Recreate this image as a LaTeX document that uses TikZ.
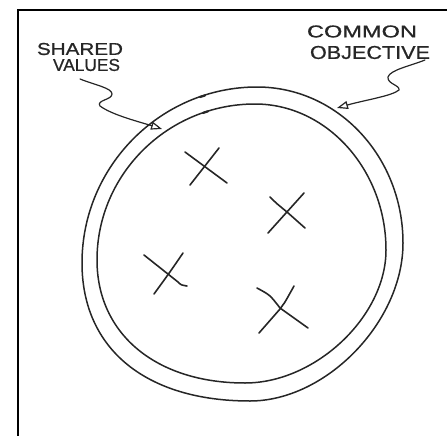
\documentclass[tikz,border=0pt]{standalone}
\usepackage{fontspec}
\setmainfont{Liberation Sans}
\newfontfamily\handfont{Liberation Sans}[FakeBold=0.8]
\usetikzlibrary{arrows.meta}
\begin{document}
\begin{tikzpicture}[x=1pt,y=-1pt,
  ring/.style={line width=1.5pt, black!85},
  cross/.style={line width=1.6pt, line cap=round, black!85},
  pointer/.style={line width=1.2pt, black!85, line cap=round, -{Triangle[open,length=11pt,width=8pt]}},
  frameline/.style={line width=2pt, black},
  tick/.style={line width=2.2pt, black!85, line cap=round},
  hand/.style={inner sep=0pt, black!85, font=\handfont}]
\useasboundingbox (0,0) rectangle (447,436);
% frame
\draw[frameline] (17.5,436) -- (17.5,10) -- (447,10);
% rings
\draw[ring] (257,87) .. controls (338,87) and (403,157) .. (403,243)
  .. controls (403,322) and (326,401) .. (250,401)
  .. controls (146,401) and (82,349) .. (82,263)
  .. controls (82,166) and (161,87) .. cycle;
\draw[ring] (255,104) .. controls (327,104) and (386,170) .. (386,250)
  .. controls (386,316.5) and (315.5,383) .. (245,383)
  .. controls (156,383) and (97,334) .. (97,260)
  .. controls (97,174) and (168,104) .. cycle;
% small ticks on rings
\draw[tick] (200,97) -- (205,95.5);
\draw[tick] (203,113) -- (208,111.3);
% labels
\node[hand] (sv1) at (80,49) {\resizebox{86pt}{12pt}{SHARED}};
\node[hand] (sv2) at (86.5,65) {\resizebox{67pt}{12pt}{VALUES}};
\node[hand] (co1) at (362,31.5) {\resizebox{110pt}{12pt}{COMMON}};
\node[hand] (co2) at (370,52.5) {\resizebox{120pt}{13pt}{OBJECTIVE}};
% arrows
\coordinate (svs) at (80,79);
\coordinate (svt) at (162,129);
\draw[pointer] (svs) .. controls (95,85) and (112,88) .. (112,94) .. controls (112,100) and (96,100) .. (100,106) .. controls (112,115) and (140,122) .. (svt);
\coordinate (cos) at (425,60);
\coordinate (cot) at (337,108);
\draw[pointer] (cos) .. controls (410,66) and (390,70) .. (388,77) .. controls (387,84) and (400,85) .. (399,90) .. controls (392,96) and (365,100) .. (cot);
% crosses
\draw[cross] (185,152) -- (227,183);
\draw[cross] (219,148) -- (190,185);
\draw[cross] (270,197) .. controls (276,203) .. (287,212) -- (305,228);
\draw[cross] (304,193) -- (268,233);
\draw[cross] (144,255) -- (178,282) .. controls (181,285) .. (187,286);
\draw[cross] (183,253) .. controls (170,272) .. (154,294);
\draw[cross] (257,288) .. controls (270,295) .. (280,308) -- (308,328);
\draw[cross] (294,286) .. controls (284,304) .. (280,309) -- (259,333);
\end{tikzpicture}
\end{document}
